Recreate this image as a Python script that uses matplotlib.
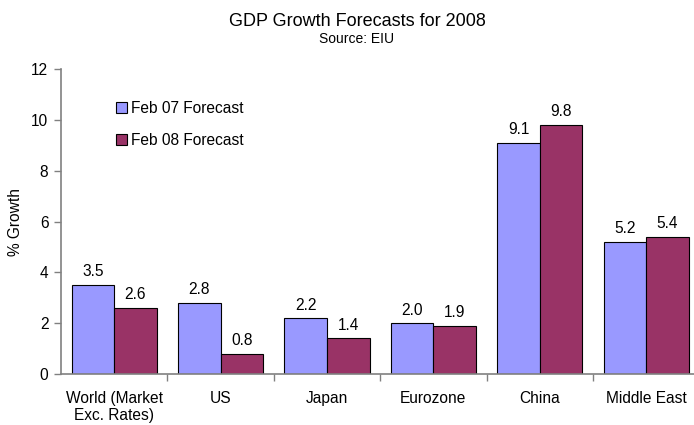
import matplotlib
matplotlib.use("Agg")
import matplotlib.pyplot as plt
from matplotlib.patches import Patch
import numpy as np

categories = ["World (Market\nExc. Rates)", "US", "Japan", "Eurozone", "China", "Middle East"]
feb07 = [3.5, 2.8, 2.2, 2.0, 9.1, 5.2]
feb08 = [2.6, 0.8, 1.4, 1.9, 9.8, 5.4]
series_names = ["Feb 07 Forecast", "Feb 08 Forecast"]
yticks = [0, 2, 4, 6, 8, 10, 12]

plt.rcParams["font.family"] = ["Liberation Sans", "DejaVu Sans"]

fig = plt.figure(figsize=(6.94, 4.25), dpi=100)
ax = fig.add_axes([61 / 694, 51 / 425, 638.4 / 694, 305 / 425])

c07 = "#9999FF"
c08 = "#993366"
fs = 11.2
x = np.arange(len(categories))
w = 0.4
b1 = ax.bar(x - w / 2, feb07, w, color=c07, edgecolor="black", linewidth=0.8)
b2 = ax.bar(x + w / 2, feb08, w, color=c08, edgecolor="black", linewidth=0.8)

for bars, vals in ((b1, feb07), (b2, feb08)):
    for r, v in zip(bars, vals):
        ax.annotate(f"{v:.1f}", (r.get_x() + r.get_width() / 2, v),
                    xytext=(0, 4), textcoords="offset points",
                    ha="center", va="bottom", fontsize=fs)

ax.set_xlim(-0.5, len(categories) - 0.5)
ax.set_ylim(0, 12)
ax.set_yticks(yticks)
ax.tick_params(axis="y", labelsize=fs, length=5, width=1, color="#808080", pad=4)

# category labels centered, ticks at category boundaries
ax.set_xticks(x)
ax.set_xticklabels(categories, fontsize=fs)
ax.tick_params(axis="x", length=0, pad=12)
ax.set_xticks(np.arange(len(categories) - 1) + 0.5, minor=True)
ax.tick_params(axis="x", which="minor", length=5, width=1, color="#808080")

for s in ("top", "right"):
    ax.spines[s].set_visible(False)
for s in ("left", "bottom"):
    ax.spines[s].set_color("#808080")
    ax.spines[s].set_linewidth(1.2)

ax.set_ylabel("% Growth", fontsize=fs, labelpad=6)

fig.text(357 / 694, 1 - 21 / 425, "GDP Growth Forecasts for 2008",
         ha="center", va="center", fontsize=13)
fig.text(357 / 694, 1 - 39 / 425, "Source: EIU",
         ha="center", va="center", fontsize=10)

handles = [Patch(facecolor=c07, edgecolor="black", linewidth=0.8),
           Patch(facecolor=c08, edgecolor="black", linewidth=0.8)]
ax.legend(handles, series_names, loc="upper left",
          bbox_to_anchor=(108 / 694, 1 - 93 / 425), bbox_transform=fig.transFigure,
          frameon=False, fontsize=fs, handlelength=0.7, handleheight=0.7,
          handletextpad=0.3, labelspacing=1.1, borderpad=0)

fig.savefig("out.png", dpi=100)
